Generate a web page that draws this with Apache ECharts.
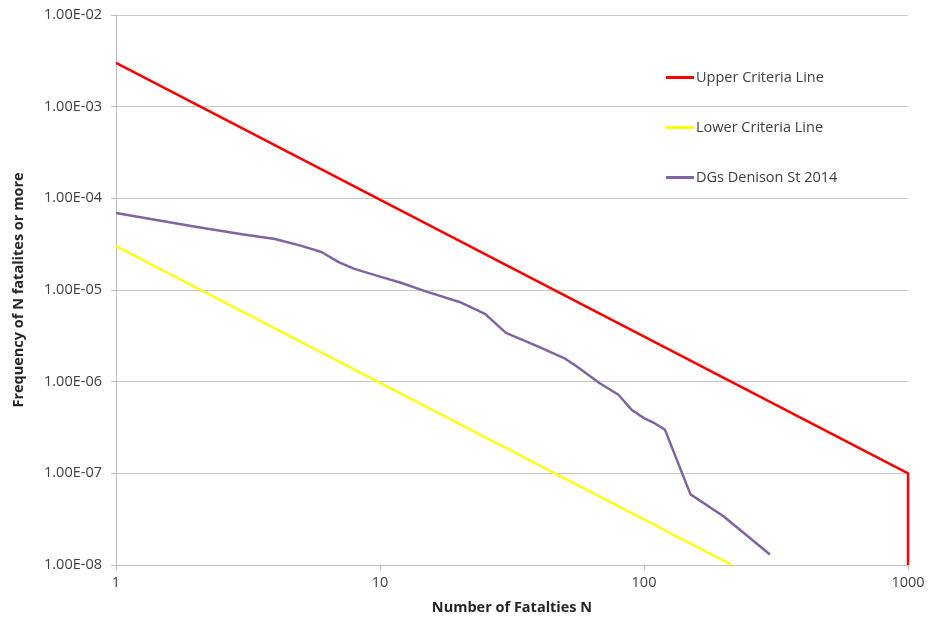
<!DOCTYPE html>
<html>
<head>
<meta charset="utf-8">
<script src="https://cdn.jsdelivr.net/npm/echarts@6/dist/echarts.min.js"></script>
<style>html,body{margin:0;padding:0;background:#fff}#c{width:929px;height:623px}</style>
</head>
<body>
<div id="c"></div>
<script>
const seriesNames = ['Upper Criteria Line', 'Lower Criteria Line', 'DGs Denison St 2014'];
const upperLine = [[1, 3e-3], [1000, 1e-7], [1000, 1e-8]];
const lowerLine = [[1, 3e-5], [215, 1e-8]];
const dgsN = [1, 2, 3, 4, 5, 6, 7, 8, 10, 12, 15, 20, 25, 30, 40, 50, 55, 68, 80, 90, 100, 110, 120, 150, 200, 300];
const dgsFreq = [6.9e-5, 4.9e-5, 4.05e-5, 3.6e-5, 3.05e-5, 2.6e-5, 2.0e-5, 1.7e-5, 1.4e-5, 1.2e-5, 9.6e-6, 7.4e-6, 5.5e-6, 3.4e-6, 2.4e-6, 1.8e-6, 1.5e-6, 9.6e-7, 7.2e-7, 4.9e-7, 4.0e-7, 3.5e-7, 3.0e-7, 5.9e-8, 3.4e-8, 1.3e-8];
const xTicks = [1, 10, 100, 1000];
const yTickLabels = ['1.00E-08', '1.00E-07', '1.00E-06', '1.00E-05', '1.00E-04', '1.00E-03', '1.00E-02'];

const dgsData = dgsN.map((n, i) => [n, dgsFreq[i]]);
const font = '"Open Sans", "Liberation Sans", sans-serif';

function fmtY(v) {
  const e = Math.round(Math.log10(v));
  const idx = e + 8;
  return yTickLabels[idx] !== undefined ? yTickLabels[idx] : '';
}

const chart = echarts.init(document.getElementById('c'), null, { renderer: 'canvas' });
chart.setOption({
  animation: false,
  backgroundColor: '#ffffff',
  grid: { left: 116, right: 21, top: 15, bottom: 58, containLabel: false },
  legend: {
    orient: 'vertical',
    left: 661,
    top: 65,
    icon: 'rect',
    itemWidth: 28,
    itemHeight: 3,
    itemGap: 35,
    textStyle: { fontFamily: font, fontSize: 14.5, color: '#404040', padding: [0, 0, 0, -3] },
    data: seriesNames
  },
  xAxis: {
    type: 'log',
    logBase: 10,
    min: xTicks[0],
    max: xTicks[xTicks.length - 1],
    name: 'Number of Fatalties N',
    nameLocation: 'middle',
    nameGap: 35,
    nameTextStyle: { fontFamily: font, fontSize: 14.5, fontWeight: 'bold', color: '#262626' },
    axisLine: { lineStyle: { color: '#bfbfbf', width: 1 } },
    axisTick: { show: true, length: 5, lineStyle: { color: '#bfbfbf' } },
    minorTick: { show: false },
    splitLine: { show: false },
    axisLabel: { fontFamily: font, fontSize: 14.5, color: '#404040', margin: 10, formatter: v => String(Math.round(v)) }
  },
  yAxis: {
    type: 'log',
    logBase: 10,
    min: 1e-8,
    max: 1e-2,
    name: 'Frequency of N fatalites or more',
    nameLocation: 'middle',
    nameGap: 90,
    nameRotate: 90,
    nameTextStyle: { fontFamily: font, fontSize: 14.5, fontWeight: 'bold', color: '#262626' },
    axisLine: { show: true, lineStyle: { color: '#bfbfbf', width: 1 } },
    axisTick: { show: true, length: 5, lineStyle: { color: '#bfbfbf' } },
    splitLine: { show: true, lineStyle: { color: '#c8c8c8', width: 1 } },
    axisLabel: { fontFamily: font, fontSize: 14.5, color: '#404040', margin: 14, formatter: fmtY }
  },
  series: [
    { name: seriesNames[0], type: 'line', data: upperLine, symbol: 'none', lineStyle: { color: '#ff0000', width: 2.5 }, itemStyle: { color: '#ff0000' }, z: 3 },
    { name: seriesNames[1], type: 'line', data: lowerLine, symbol: 'none', lineStyle: { color: '#ffff00', width: 2.4 }, itemStyle: { color: '#ffff00' }, z: 3 },
    { name: seriesNames[2], type: 'line', data: dgsData, symbol: 'none', smooth: false, lineStyle: { color: '#8064a2', width: 2.5, join: 'round' }, itemStyle: { color: '#8064a2' }, z: 4 }
  ]
});
</script>
</body>
</html>
